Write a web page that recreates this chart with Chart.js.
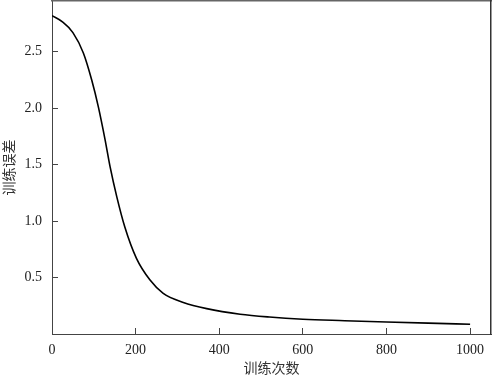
<!DOCTYPE html>
<html>
<head>
<meta charset="utf-8">
<script src="https://cdn.jsdelivr.net/npm/chart.js@4"></script>
<style>
  html, body { margin: 0; padding: 0; background: #fff; }
  canvas { display: block; }
</style>
</head>
<body>
<canvas id="lossChart" width="492" height="376"></canvas>
<script>
// training curve
const iterations = [0, 25, 50, 75, 95, 111, 127, 139, 155, 174, 202, 234, 266, 314, 370, 450, 520, 600, 700, 800, 900, 1000];
const errors = [2.82, 2.765, 2.67, 2.49, 2.25, 2.01, 1.72, 1.48, 1.215, 0.95, 0.67, 0.48, 0.36, 0.28, 0.225, 0.175, 0.15, 0.131, 0.118, 0.106, 0.096, 0.087];

const xTicks = [0, 200, 400, 600, 800, 1000];
const yTicks = [0.5, 1.0, 1.5, 2.0, 2.5];

const axisColor = '#444';
const tickFont = { family: 'Liberation Serif', size: 14 };
const cjkFont = { family: 'Noto Sans CJK SC', size: 14 };

const points = iterations.map((x, i) => ({ x: x, y: errors[i] }));

// keep the plot area where the reference has it: no auto padding for labels
function noPad(s) {
    s.paddingTop = 0;
    s.paddingBottom = 0;
    s.paddingLeft = 0;
    s.paddingRight = 0;
}

new Chart(document.getElementById('lossChart').getContext('2d'), {
    type: 'line',
    data: {
        datasets: [{
            data: points,
            borderColor: '#000',
            borderWidth: 1.6,
            pointRadius: 0,
            fill: false,
            cubicInterpolationMode: 'monotone'
        }]
    },
    options: {
        responsive: false,
        animation: false,
        layout: { padding: { left: 0, top: 1, right: 1, bottom: 0 } },
        plugins: { legend: { display: false }, tooltip: { enabled: false } },
        scales: {
            x: {
                type: 'linear',
                position: 'bottom',
                min: 0,
                max: 1050,
                afterBuildTicks: s => { s.ticks = xTicks.map(v => ({ value: v })); },
                afterFit: s => { s.height = 42; noPad(s); },
                grid: { drawOnChartArea: false, drawTicks: true, tickLength: -6, color: axisColor, lineWidth: 1 },
                border: { display: true, color: axisColor, width: 1 },
                ticks: { color: '#222', font: tickFont, padding: 14, maxRotation: 0, callback: v => String(v) },
                title: { display: true, text: '训练次数', color: '#333', font: cjkFont, padding: { top: 0, bottom: 0 } }
            },
            y: {
                position: 'left',
                min: 0,
                max: 2.95,
                afterBuildTicks: s => { s.ticks = yTicks.map(v => ({ value: v })); },
                afterFit: s => { s.width = 52; noPad(s); },
                grid: { drawOnChartArea: false, drawTicks: true, tickLength: -6, color: axisColor, lineWidth: 1 },
                border: { display: true, color: axisColor, width: 1 },
                ticks: { color: '#222', font: tickFont, padding: 16, callback: v => v.toFixed(1) },
                title: { display: true, text: '训练误差', color: '#333', font: cjkFont, padding: { top: 0, bottom: 0 } }
            },
            xTop: {
                type: 'linear',
                position: 'top',
                min: 0,
                max: 1050,
                afterFit: s => { s.height = 0; noPad(s); },
                grid: { display: true, drawOnChartArea: false, drawTicks: false },
                border: { display: true, color: '#666', width: 1.5 },
                ticks: { display: false }
            },
            yRight: {
                position: 'right',
                min: 0,
                max: 2.95,
                afterFit: s => { s.width = 0; noPad(s); },
                grid: { display: true, drawOnChartArea: false, drawTicks: false },
                border: { display: true, color: '#333', width: 1.5 },
                ticks: { display: false }
            }
        }
    }
});
</script>
</body>
</html>
